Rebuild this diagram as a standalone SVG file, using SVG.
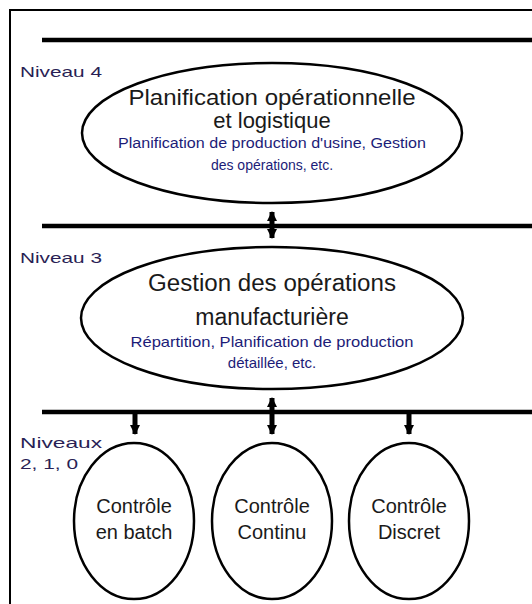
<svg xmlns="http://www.w3.org/2000/svg" width="532" height="604" viewBox="0 0 532 604">
<defs>
<marker id="ah" viewBox="0 0 10 10" refX="9" refY="5" markerWidth="10" markerHeight="10" markerUnits="userSpaceOnUse" orient="auto-start-reverse">
<path d="M0,0 L10,5 L0,10 z" fill="#000"/>
</marker>
<style>
.bus{stroke:#000;stroke-width:4.5;fill:none}
.node{fill:#fff;stroke:#000;stroke-width:2.5}
.arr{stroke:#000;stroke-width:5;fill:none}
.t{font-family:"Liberation Sans",Arial,sans-serif;fill:#1a1a1a;text-anchor:middle}
.s{font-family:"Liberation Sans",Arial,sans-serif;fill:#1c1c78;text-anchor:middle}
.lv{font-family:"Liberation Sans",Arial,sans-serif;fill:#2a1f55;font-size:15px}
</style>
</defs>
<rect x="0" y="0" width="532" height="604" fill="#fff"/>
<path d="M10,604 V10 H532" fill="none" stroke="#000" stroke-width="2"/>
<g id="buses">
<line class="bus" x1="42" y1="40" x2="532" y2="40"/>
<line class="bus" x1="42" y1="226" x2="532" y2="226"/>
<line class="bus" x1="42" y1="412" x2="532" y2="412"/>
</g>
<g id="connectors">
<line class="arr" x1="272" y1="212" x2="272" y2="238" marker-start="url(#ah)" marker-end="url(#ah)"/>
<line class="arr" x1="272" y1="398" x2="272" y2="434" marker-start="url(#ah)" marker-end="url(#ah)"/>
<line class="arr" x1="135" y1="412" x2="135" y2="434" marker-end="url(#ah)"/>
<line class="arr" x1="409" y1="412" x2="409" y2="434" marker-end="url(#ah)"/>
</g>
<g id="labels">
<text class="lv" x="20" y="77" textLength="82" lengthAdjust="spacingAndGlyphs">Niveau 4</text>
<text class="lv" x="20" y="263" textLength="82" lengthAdjust="spacingAndGlyphs">Niveau 3</text>
<text class="lv" x="20" y="448" textLength="82" lengthAdjust="spacingAndGlyphs">Niveaux</text>
<text class="lv" x="20" y="469" textLength="58" lengthAdjust="spacingAndGlyphs">2, 1, 0</text>
</g>
<g id="node-niveau4">
<ellipse class="node" cx="272" cy="133" rx="190" ry="70"/>
<text class="t" x="272" y="105" font-size="22" textLength="287" lengthAdjust="spacingAndGlyphs">Planification opérationnelle</text>
<text class="t" x="272" y="128" font-size="22">et logistique</text>
<text class="s" x="272" y="148" font-size="14" textLength="308" lengthAdjust="spacingAndGlyphs">Planification de production d'usine, Gestion</text>
<text class="s" x="272" y="170" font-size="14">des opérations, etc.</text>
</g>
<g id="node-niveau3">
<ellipse class="node" cx="272" cy="318" rx="191" ry="71"/>
<text class="t" x="272" y="291" font-size="23" textLength="248" lengthAdjust="spacingAndGlyphs">Gestion des opérations</text>
<text class="t" x="272" y="325" font-size="23">manufacturière</text>
<text class="s" x="272" y="347" font-size="15" textLength="283" lengthAdjust="spacingAndGlyphs">Répartition, Planification de production</text>
<text class="s" x="272" y="368" font-size="15">détaillée, etc.</text>
</g>
<g id="node-batch">
<ellipse class="node" cx="134" cy="521" rx="60" ry="78"/>
<text class="t" x="134" y="513" font-size="20">Contrôle</text>
<text class="t" x="134" y="539" font-size="20">en batch</text>
</g>
<g id="node-continu">
<ellipse class="node" cx="272" cy="521" rx="60" ry="78"/>
<text class="t" x="272" y="513" font-size="20">Contrôle</text>
<text class="t" x="272" y="539" font-size="20">Continu</text>
</g>
<g id="node-discret">
<ellipse class="node" cx="409" cy="521" rx="60" ry="78"/>
<text class="t" x="409" y="513" font-size="20">Contrôle</text>
<text class="t" x="409" y="539" font-size="20">Discret</text>
</g>
</svg>
